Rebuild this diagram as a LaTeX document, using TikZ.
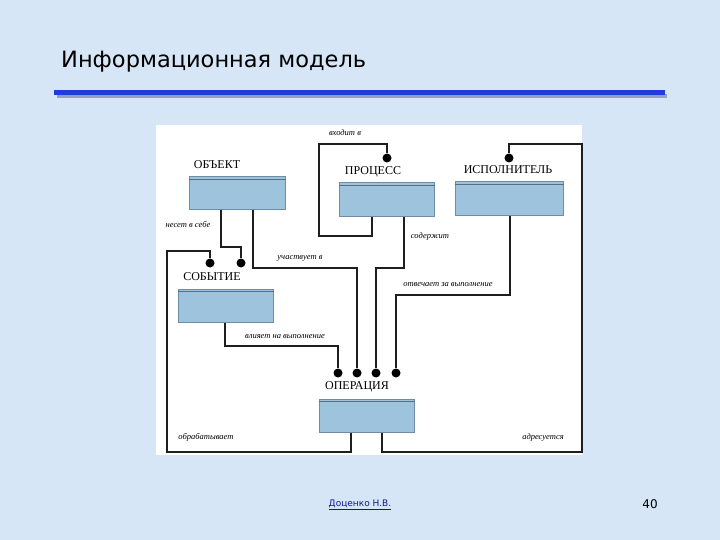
\documentclass[tikz,border=0pt]{standalone}
\usepackage{fontspec}
\setmainfont{Liberation Serif}
\newfontfamily\titlefont{DejaVu Sans}
\definecolor{bgc}{RGB}{214,230,246}
\definecolor{entfill}{RGB}{157,195,221}
\definecolor{entedge}{RGB}{110,140,165}
\definecolor{entline}{RGB}{90,110,130}
\definecolor{lnc}{RGB}{30,30,30}
\definecolor{barc}{RGB}{30,60,220}
\definecolor{shc}{RGB}{150,160,190}
\definecolor{authc}{RGB}{20,20,160}
\begin{document}
\begin{tikzpicture}[x=1pt,y=-1pt,
  ent/.style={draw=entedge,fill=entfill,line width=1pt,inner sep=0pt},
  lab/.style={font=\fontsize{12}{13}\selectfont,inner sep=0pt},
  rel/.style={font=\fontsize{8.5}{9}\selectfont\itshape,inner sep=0pt},
  ln/.style={line width=1.3pt,draw=lnc},
  dot/.style={circle,fill=black,inner sep=0pt,minimum size=9pt}]
\useasboundingbox (0,0) rectangle (720,540);
\fill[bgc] (0,0) rectangle (720,540);
\node[anchor=west,inner sep=0pt,font=\titlefont\fontsize{22.5}{26}\selectfont] (title) at (61,62) {Информационная модель};
\fill[shc] (57,94) rectangle (667,98);
\fill[barc] (54,90) rectangle (665,95);
\fill[white] (156,125) rectangle (582,455);
% entities
\node[ent,minimum width=96pt,minimum height=33pt] (obj) at (237,193.5) {};
\node[ent,minimum width=95pt,minimum height=34pt] (proc) at (386.5,200) {};
\node[ent,minimum width=108pt,minimum height=34pt] (isp) at (509,199) {};
\node[ent,minimum width=95pt,minimum height=33pt] (sob) at (225.5,305.5) {};
\node[ent,minimum width=95pt,minimum height=33pt] (op) at (366.5,415.5) {};
\foreach \n in {obj,proc,isp,sob,op}{\draw[entline,line width=0.8pt] ([yshift=-3pt]\n.north west) -- ([yshift=-3pt]\n.north east);}
\node[lab] (lobj) at (217,165) {ОБЪЕКТ};
\node[lab] (lproc) at (373,172) {ПРОЦЕСС};
\node[lab] (lisp) at (508,170) {ИСПОЛНИТЕЛЬ};
\node[lab] (lsob) at (212,277) {СОБЫТИЕ};
\node[lab] (lop) at (357,387) {ОПЕРАЦИЯ};
% dots
\node[dot] (d1) at (387,158) {};
\node[dot] (d2) at (509,158) {};
\node[dot] (d3) at (210,263) {};
\node[dot] (d4) at (241,263) {};
\node[dot] (d5) at (338,373) {};
\node[dot] (d6) at (357,373) {};
\node[dot] (d7) at (376,373) {};
\node[dot] (d8) at (396,373) {};
% connectors
\draw[ln] (proc.south -| 372,0) -- (372,236) -- (319,236) -- (319,144) -- (387,144) -- (d1);
\draw[ln] (d2) -- (509,144) -- (582,144) -- (582,452) -- (382,452) -- (op.south -| 382,0);
\draw[ln] (obj.south -| 221,0) -- (221,247) -- (241,247) -- (d4);
\draw[ln] (d3) -- (210,251) -- (167,251) -- (167,452) -- (351,452) -- (op.south -| 351,0);
\draw[ln] (obj.south -| 253,0) -- (253,268) -- (357,268) -- (d6);
\draw[ln] (proc.south -| 404,0) -- (404,268) -- (376,268) -- (d7);
\draw[ln] (isp.south -| 510,0) -- (510,295) -- (396,295) -- (d8);
\draw[ln] (sob.south -| 225,0) -- (225,346) -- (338,346) -- (d5);
% relation labels
\node[rel] (r1) at (345,133) {входит в};
\node[rel] (r2) at (188,224) {несет в себе};
\node[rel] (r3) at (300,258) {участвует в};
\node[rel] (r4) at (430,236) {содержит};
\node[rel] (r5) at (448,285) {отвечает за выполнение};
\node[rel] (r6) at (285,337) {влияет на выполнение};
\node[rel] (r7) at (206,437) {обрабатывает};
\node[rel] (r8) at (543,437) {адресуется};
% footer
\node[inner sep=0pt,font=\titlefont\fontsize{9}{10}\selectfont,text=authc] (auth) at (360,505) {\underline{Доценко Н.В.}};
\node[inner sep=0pt,font=\titlefont\fontsize{12}{14}\selectfont] (pg) at (650,504) {40};
\end{tikzpicture}
\end{document}
